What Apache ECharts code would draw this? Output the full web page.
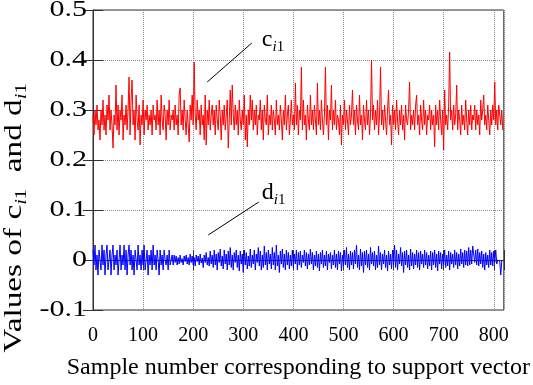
<!DOCTYPE html>
<html>
<head>
<meta charset="utf-8">
<script src="https://cdn.jsdelivr.net/npm/echarts@6/dist/echarts.min.js"></script>
<style>
  html, body { margin: 0; padding: 0; background: #fff; }
  #chart { width: 533px; height: 385px; }
</style>
</head>
<body>
<div id="chart"></div>
<script>
// one value every 2 samples
var sampleStep = 2;

var cValues = [
  0.29,0.25,0.30,0.27,0.31,0.26,0.28,0.24,0.30,0.27,0.32,0.26,0.29,0.25,0.31,0.28,0.33,0.26,0.30,0.27,
  0.224,0.29,0.27,0.35,0.26,0.31,0.25,0.30,0.28,0.33,0.24,0.29,0.27,0.31,0.26,0.30,0.366,0.25,0.32,0.36,
  0.27,0.30,0.24,0.33,0.28,0.26,0.31,0.23,0.29,0.27,0.32,0.25,0.30,0.28,0.31,0.26,0.29,0.27,0.30,0.25,
  0.31,0.28,0.29,0.26,0.32,0.27,0.30,0.25,0.33,0.28,0.26,0.31,0.29,0.24,0.30,0.27,0.32,0.26,0.29,0.28,
  0.30,0.26,0.31,0.27,0.29,0.25,0.33,0.344,0.27,0.30,0.26,0.32,0.28,0.25,0.30,0.27,0.236,0.31,0.28,0.33,
  0.27,0.396,0.29,0.26,0.32,0.28,0.30,0.25,0.31,0.27,0.29,0.24,0.33,0.23,0.30,0.27,0.32,0.26,0.29,0.31,
  0.27,0.30,0.25,0.31,0.28,0.26,0.32,0.29,0.24,0.30,0.27,0.31,0.26,0.29,0.32,0.224,0.28,0.34,0.27,0.35,
  0.29,0.26,0.31,0.27,0.30,0.25,0.32,0.28,0.26,0.30,0.27,0.33,0.24,0.29,0.226,0.30,0.27,0.33,0.28,0.32,
  0.26,0.30,0.27,0.31,0.25,0.29,0.28,0.32,0.26,0.30,0.24,0.31,0.28,0.27,0.33,0.25,0.29,0.27,0.31,0.26,
  0.30,0.28,0.25,0.32,0.27,0.29,0.26,0.31,0.28,0.24,0.30,0.27,0.33,0.26,0.29,0.31,0.25,0.28,0.32,0.27,
  0.29,0.26,0.354,0.27,0.31,0.25,0.30,0.28,0.386,0.26,0.32,0.27,0.29,0.24,0.31,0.28,0.26,0.33,0.27,0.30,
  0.26,0.31,0.28,0.25,0.354,0.27,0.30,0.26,0.32,0.28,0.25,0.29,0.386,0.27,0.31,0.24,0.30,0.28,0.35,0.26,
  0.30,0.27,0.32,0.26,0.29,0.28,0.25,0.31,0.23,0.29,0.27,0.32,0.26,0.30,0.28,0.25,0.31,0.27,0.29,0.34,
  0.27,0.30,0.25,0.31,0.28,0.26,0.33,0.27,0.29,0.24,0.31,0.28,0.26,0.32,0.27,0.30,0.25,0.29,0.40,0.28,
  0.31,0.26,0.30,0.27,0.32,0.25,0.29,0.386,0.27,0.30,0.26,0.31,0.28,0.25,0.30,0.34,0.27,0.29,0.23,0.31,
  0.27,0.30,0.26,0.32,0.28,0.25,0.30,0.27,0.31,0.26,0.29,0.24,0.31,0.28,0.27,0.30,0.356,0.26,0.29,0.27,
  0.30,0.26,0.31,0.33,0.27,0.29,0.25,0.31,0.28,0.26,0.32,0.27,0.30,0.25,0.29,0.28,0.31,0.26,0.30,0.27,
  0.29,0.226,0.31,0.27,0.30,0.26,0.32,0.28,0.25,0.30,0.22,0.34,0.27,0.29,0.26,0.31,0.416,0.28,0.30,0.26,
  0.31,0.27,0.29,0.35,0.26,0.30,0.28,0.25,0.31,0.27,0.29,0.26,0.32,0.28,0.25,0.30,0.27,0.31,0.26,0.29,
  0.28,0.31,0.26,0.30,0.27,0.29,0.25,0.32,0.28,0.30,0.33,0.27,0.29,0.26,0.31,0.28,0.25,0.30,0.27,0.31,
  0.28,0.356,0.27,0.30,0.26,0.31,0.29,0.27,0.30,0.26
];

var dValues = [
  0.02,-0.01,0.03,-0.02,0.01,-0.03,0.02,0.00,-0.02,0.03,-0.01,0.02,-0.03,0.01,0.03,-0.02,0.00,0.02,-0.03,0.01,
  0.03,-0.02,0.01,-0.01,0.02,-0.03,0.00,0.03,-0.02,0.01,-0.01,0.03,-0.02,0.02,-0.03,0.01,0.03,-0.01,0.02,-0.02,
  0.01,-0.03,0.02,0.00,-0.02,0.03,-0.01,0.01,-0.02,0.02,-0.01,0.03,-0.02,0.00,0.02,-0.03,0.01,-0.01,0.02,-0.02,
  0.03,-0.01,0.01,-0.02,0.02,0.00,-0.03,0.02,-0.01,0.01,-0.02,0.02,0.00,-0.01,0.01,-0.02,0.02,-0.01,0.00,0.01,
  -0.01,0.01,-0.005,0.008,-0.01,0.005,-0.008,0.01,-0.005,0.003,-0.01,0.008,-0.003,0.01,-0.008,0.005,-0.01,0.012,-0.005,0.008,
  -0.01,0.005,-0.012,0.01,-0.003,0.008,-0.01,0.012,-0.006,0.004,-0.015,0.01,-0.005,0.015,-0.01,0.005,-0.012,0.018,-0.008,0.01,
  -0.015,0.02,-0.01,0.012,-0.02,0.015,-0.005,0.022,-0.012,0.008,-0.018,0.02,-0.008,0.012,-0.02,0.018,-0.01,0.025,-0.015,0.01,
  -0.02,0.015,-0.005,0.02,-0.015,0.01,-0.022,0.018,-0.008,0.012,-0.025,0.02,-0.01,0.015,-0.018,0.008,-0.012,0.022,-0.015,0.01,
  -0.008,0.02,-0.02,0.012,-0.005,0.025,-0.012,0.018,-0.02,0.01,-0.015,0.028,-0.01,0.015,-0.02,0.02,-0.008,0.012,-0.018,0.025,
  -0.01,0.015,-0.02,0.03,-0.012,0.01,-0.025,0.018,-0.008,0.022,-0.015,0.012,-0.02,0.02,-0.01,0.015,-0.018,0.01,-0.012,0.02,
  -0.015,0.012,-0.008,0.02,-0.02,0.015,-0.01,0.018,-0.015,0.01,-0.005,0.02,-0.012,0.015,-0.018,0.012,-0.01,0.022,-0.008,0.015,
  -0.02,0.01,-0.012,0.018,-0.015,0.012,-0.022,0.015,-0.008,0.02,-0.015,0.01,-0.012,0.018,-0.02,0.012,-0.005,0.015,-0.018,0.01,
  -0.01,0.02,-0.015,0.012,-0.02,0.018,-0.008,0.015,-0.022,0.01,-0.012,0.02,-0.01,0.025,-0.015,0.012,-0.02,0.018,-0.01,0.015,
  -0.018,0.02,-0.008,0.03,-0.015,0.01,-0.02,0.022,-0.012,0.015,-0.025,0.018,-0.01,0.02,-0.015,0.012,-0.02,0.025,-0.008,0.015,
  -0.012,0.018,-0.02,0.01,-0.015,0.028,-0.01,0.015,-0.02,0.012,-0.008,0.02,-0.015,0.01,-0.022,0.018,-0.01,0.012,-0.018,0.02,
  -0.01,0.03,-0.015,0.02,-0.02,0.012,-0.008,0.025,-0.012,0.015,-0.025,0.018,-0.01,0.02,-0.015,0.01,-0.02,0.022,-0.012,0.015,
  -0.018,0.012,-0.01,0.02,-0.015,0.015,-0.02,0.018,-0.008,0.012,-0.015,0.02,-0.01,0.015,-0.018,0.01,-0.012,0.018,-0.02,0.015,
  -0.01,0.02,-0.015,0.012,-0.022,0.018,-0.008,0.015,-0.018,0.012,-0.01,0.02,-0.015,0.01,-0.012,0.018,-0.02,0.015,-0.008,0.012,
  -0.015,0.02,-0.01,0.015,-0.018,0.012,-0.012,0.022,-0.008,0.015,-0.015,0.02,-0.01,0.018,-0.012,0.025,-0.01,0.02,-0.008,0.028,
  0.03,-0.005,0.02,-0.01,0.022,-0.012,0.015,-0.008,0.018,-0.015,0.012,-0.02,0.015,-0.01,0.01,-0.015,0.02,-0.01,0.015,-0.012,
  0.018,-0.005,0.02,-0.008,0.0,-0.002,-0.002,-0.03,-0.002,0.0
];

var xRange = [0, 820];
var yRange = [-0.1, 0.5];
var yTickValues = [-0.1, 0, 0.1, 0.2, 0.3, 0.4, 0.5];
var yTickLabels = ['-0.1', '0', '0.1', '0.2', '0.3', '0.4', '0.5'];

// annotation anchors in data units: label position, leader line start / end
var cNote = { label: [337, 0.44], from: [317, 0.434], to: [228, 0.356] };
var dNote = { label: [337, 0.134], from: [331, 0.116], to: [230, 0.05] };

var serif = "'Liberation Serif', 'Times New Roman', serif";
var axisColor = '#333';

function toPairs(vals) {
    return vals.map(function (v, i) { return [i * sampleStep, v]; });
}

var chart = echarts.init(document.getElementById('chart'), null, { renderer: 'canvas' });

var tickStyle = { show: true, inside: true, length: 10, lineStyle: { color: axisColor } };

chart.setOption({
    animation: false,
    backgroundColor: '#fff',
    grid: { left: 93, right: 26, top: 10, bottom: 75, show: true, borderColor: axisColor, borderWidth: 1 },
    xAxis: [{
        type: 'value', min: xRange[0], max: xRange[1], interval: 100,
        name: 'Sample number corresponding to support vector',
        nameLocation: 'middle', nameGap: 46,
        nameTextStyle: { fontFamily: serif, fontSize: 24, color: '#000' },
        axisLine: { show: true, lineStyle: { color: axisColor } },
        axisTick: tickStyle,
        axisLabel: {
            fontFamily: serif, fontSize: 20, color: '#000', margin: 16,
            formatter: function (v) { return v % 100 === 0 ? String(v) : ''; }
        },
        splitLine: { show: true, lineStyle: { color: '#888', type: 'dotted' } }
    }, {
        type: 'value', position: 'top', min: xRange[0], max: xRange[1], interval: 100,
        axisLine: { show: true, lineStyle: { color: axisColor } },
        axisTick: tickStyle, axisLabel: { show: false }, splitLine: { show: false }
    }],
    yAxis: [{
        type: 'value', min: yRange[0], max: yRange[1], interval: 0.1,
        axisLine: { show: true, lineStyle: { color: axisColor } },
        axisTick: tickStyle,
        axisLabel: { show: false },
        splitLine: { show: true, lineStyle: { color: '#888', type: 'dotted' } }
    }, {
        type: 'value', position: 'right', min: yRange[0], max: yRange[1], interval: 0.1,
        axisLine: { show: true, lineStyle: { color: axisColor } },
        axisTick: tickStyle, axisLabel: { show: false }, splitLine: { show: false }
    }],
    series: [{
        name: 'c', type: 'line', data: toPairs(cValues), showSymbol: false,
        lineStyle: { color: '#ff0000', width: 1 }, itemStyle: { color: '#ff0000' }
    }, {
        name: 'd', type: 'line', data: toPairs(dValues), showSymbol: false,
        lineStyle: { color: '#0000ff', width: 1 }, itemStyle: { color: '#0000ff' }
    }]
});

function subRich(size, subSize, drop) {
    return {
        m: { fontFamily: serif, fontSize: size, fill: '#000', lineHeight: size + 4 },
        si: { fontFamily: serif, fontSize: subSize, fontStyle: 'italic', fill: '#000', padding: [drop, 0, 0, 0], lineHeight: subSize },
        s: { fontFamily: serif, fontSize: subSize, fill: '#000', padding: [drop, 0, 0, 0], lineHeight: subSize }
    };
}

function px(p) { return chart.convertToPixel({ xAxisIndex: 0, yAxisIndex: 0 }, p); }

function note(letter, n) {
    var a = px(n.from), b = px(n.to), t = px(n.label);
    return [{
        type: 'line', shape: { x1: a[0], y1: a[1], x2: b[0], y2: b[1] },
        style: { stroke: '#000', lineWidth: 1 }, z: 10
    }, {
        type: 'text', x: t[0], y: t[1], z: 10,
        style: { text: '{m|' + letter + '}{si|i}{s|1}', rich: subRich(24, 15, 15), align: 'left', verticalAlign: 'middle' }
    }];
}

// y tick labels: wide serif digits as in the original figure
var yLabels = yTickValues.map(function (v, i) {
    var p = px([0, v]);
    return {
        type: 'text', x: 87, y: p[1], scaleX: 1.25, z: 10,
        style: { text: yTickLabels[i], font: '24px ' + serif, fill: '#000', align: 'right', verticalAlign: 'middle' }
    };
});

chart.setOption({
    graphic: [].concat(note('c', cNote), note('d', dNote), yLabels, [{
        type: 'text', x: 14, y: 218, rotation: Math.PI / 2, scaleX: 1.28, z: 10,
        style: {
            text: '{m|Values of c}{si|i}{s|1}{m|  and d}{si|i}{s|1}',
            rich: subRich(26, 16, 15), align: 'center', verticalAlign: 'middle'
        }
    }])
});
</script>
</body>
</html>
